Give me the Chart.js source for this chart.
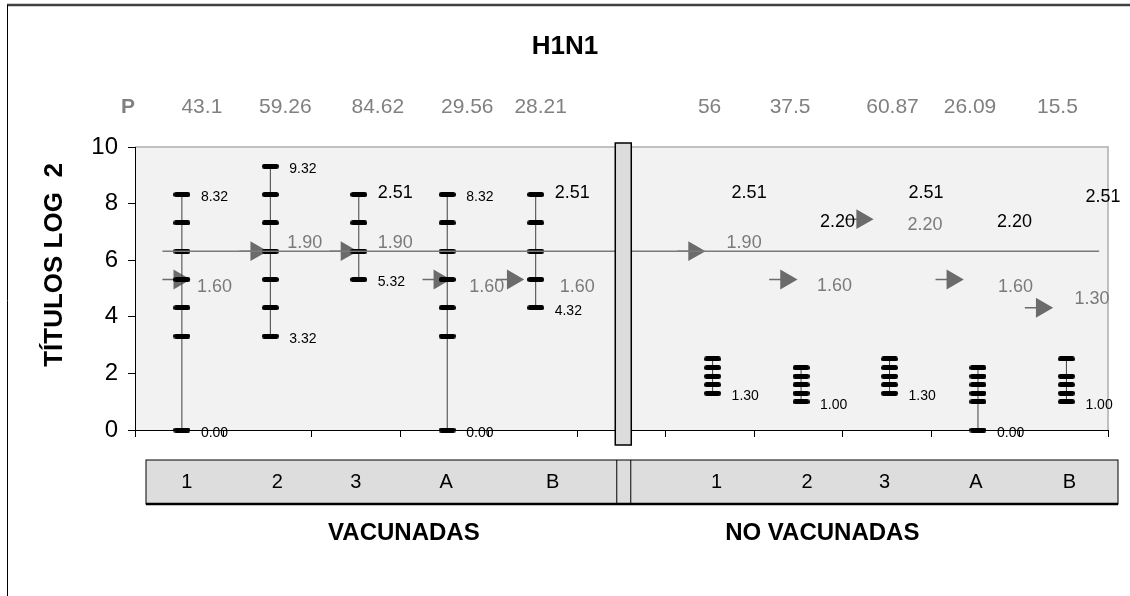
<!DOCTYPE html>
<html>
<head>
<meta charset="utf-8">
<script src="https://cdn.jsdelivr.net/npm/chart.js@4.4.0/dist/chart.umd.min.js"></script>
<style>
  html, body { margin: 0; padding: 0; background: #fff; }
  #wrap { width: 1130px; height: 596px; }
</style>
</head>
<body>
<div id="wrap"><canvas id="chart1" width="1130" height="596"></canvas></div>
<script>
// categorias (la 6a es el separador entre grupos)
const groupLabels = ['1', '2', '3', 'A', 'B', '', '1', '2', '3', 'A', 'B'];
const pValues = ['43.1', '59.26', '84.62', '29.56', '28.21', '', '56', '37.5', '60.87', '26.09', '15.5'];

// titulos individuales (log 2) - vacunadas
const vac1 = [0, 3.32, 4.32, 5.32, 6.32, 7.32, 8.32];
const vac2 = [3.32, 4.32, 5.32, 6.32, 7.32, 8.32, 9.32];
const vac3 = [5.32, 6.32, 7.32, 8.32];
const vacA = [0, 3.32, 4.32, 5.32, 6.32, 7.32, 8.32];
const vacB = [4.32, 5.32, 6.32, 7.32, 8.32];
// no vacunadas
const noVac1 = [1.30, 1.60, 1.90, 2.20, 2.51];
const noVac2 = [1.00, 1.30, 1.60, 1.90, 2.20];
const noVac3 = [1.30, 1.60, 1.90, 2.20, 2.51];
const noVacA = [0, 1.00, 1.30, 1.60, 1.90, 2.20];
const noVacB = [1.00, 1.30, 1.60, 1.90, 2.51];
const titers = [vac1, vac2, vac3, vacA, vacB, null, noVac1, noVac2, noVac3, noVacA, noVacB];

// media geometrica (etiqueta log10 y altura en el grafico)
const meanText = [1.60, 1.90, 1.90, 1.60, 1.60, null, 1.90, 1.60, 2.20, 1.60, 1.30];
const meanY = [5.32, 6.32, 6.32, 5.32, 5.32, null, 6.32, 5.32, 7.45, 5.32, 4.32];
const refLineY = 6.32;

// etiquetas de maximo y minimo
const topText = ['8.32', '9.32', '2.51', '8.32', '2.51', '', '2.51', '2.20', '2.51', '2.20', '2.51'];
const topY = [8.32, 9.32, 8.34, 8.32, 8.34, null, 8.34, 7.31, 8.34, 7.31, 8.2];
const bottomText = ['0.00', '3.32', '5.32', '0.00', '4.32', '', '1.30', '1.00', '1.30', '0.00', '1.00'];

// ajustes de posicion (px) copiados del original
const arrowShift = [0.00, -0.13, -0.11, -0.06, -0.23, 0, -0.18, -0.14, -0.28, -0.26, -0.25];
const meanLabelDx = [15, 17, 19, 22, 24, 0, 14, 16, 18, 20, 8];
const meanLabelDy = [8, -8, -8, 8, 8, 0, -8, 7, 6, 8, -9];
const pShift = [20, 15, 19, 20, 5, 0, -3, -11, 3, -8, -9];
const boxShift = [5, 7, -3, -1, 17, 0, 4, 6, -5, -2, 3];

const FONT = "'Liberation Sans', Arial, sans-serif";
const catX = i => i + 0.53;

function pill(w, h) {
  const c = document.createElement('canvas');
  c.width = w; c.height = h;
  const g = c.getContext('2d');
  const r = h / 2;
  g.fillStyle = '#000';
  g.beginPath();
  g.arc(r, r, r, Math.PI / 2, Math.PI * 1.5);
  g.arc(w - r, r, r, -Math.PI / 2, Math.PI / 2);
  g.closePath();
  g.fill();
  return c;
}
const tickMark = pill(17, 5);

const datasets = [];
// linea de referencia
datasets.push({
  data: [{ x: 0.31, y: refLineY }, { x: 10.9, y: refLineY }],
  borderColor: '#7a7a7a', borderWidth: 1.5, pointRadius: 0, clip: false
});
// rangos de titulos
titers.forEach((vals, i) => {
  if (!vals) return;
  datasets.push({
    data: vals.map(v => ({ x: catX(i), y: v })),
    borderColor: '#404040', borderWidth: 1,
    pointStyle: tickMark, pointRadius: 8, clip: false
  });
});
// flechas de media
const arrowData = [];
meanY.forEach((v, i) => {
  if (v === null) return;
  const cx = i + 0.5 + arrowShift[i];
  arrowData.push({ x: cx - 0.19, y: v }, { x: cx, y: v }, { x: cx, y: null });
});
datasets.push({
  data: arrowData,
  borderColor: '#6b6b6b', borderWidth: 1.5, spanGaps: false,
  pointStyle: 'triangle', pointRotation: 90,
  pointRadius: c => (c.dataIndex % 3 === 1 ? 11.5 : 0),
  pointBackgroundColor: '#6b6b6b', pointBorderWidth: 0, clip: false
});

const decor = {
  id: 'decor',
  beforeDraw(chart) {
    const { ctx, chartArea: a } = chart;
    ctx.save();
    ctx.fillStyle = '#fff';
    ctx.fillRect(0, 0, chart.width, chart.height);
    ctx.strokeStyle = '#404040'; ctx.lineWidth = 2.5;
    ctx.beginPath(); ctx.moveTo(7, 5); ctx.lineTo(chart.width, 5); ctx.stroke();
    ctx.strokeStyle = '#000'; ctx.lineWidth = 1;
    ctx.beginPath(); ctx.moveTo(7.5, 5); ctx.lineTo(7.5, chart.height); ctx.stroke();
    ctx.fillStyle = '#f2f2f2';
    ctx.fillRect(a.left, a.top, a.right - a.left, a.bottom - a.top);
    ctx.strokeStyle = '#c0c0c0'; ctx.lineWidth = 2;
    ctx.beginPath(); ctx.moveTo(a.left, a.top); ctx.lineTo(a.right, a.top); ctx.lineTo(a.right, a.bottom); ctx.stroke();
    ctx.restore();
  },
  afterDatasetsDraw(chart) {
    const { ctx, chartArea: a, scales: { x, y } } = chart;
    ctx.save();
    // separador
    const sx = x.getPixelForValue(5.52);
    ctx.fillStyle = '#dcdcdc'; ctx.strokeStyle = '#000'; ctx.lineWidth = 1.5;
    ctx.fillRect(sx - 8, a.top - 4, 16, a.bottom - a.top + 19);
    ctx.strokeRect(sx - 8, a.top - 4, 16, a.bottom - a.top + 19);

    // caja de categorias
    const bt = a.bottom + 30, bh = 44, bl = a.left + 11, br = a.right + 10;
    ctx.fillStyle = '#dddddd';
    ctx.fillRect(bl, bt, br - bl, bh);
    ctx.lineWidth = 1; ctx.strokeRect(bl, bt, br - bl, bh);
    ctx.lineWidth = 2.5;
    ctx.beginPath(); ctx.moveTo(bl, bt + bh); ctx.lineTo(br, bt + bh); ctx.stroke();
    ctx.lineWidth = 1;
    ctx.beginPath();
    ctx.moveTo(sx - 6.5, bt); ctx.lineTo(sx - 6.5, bt + bh);
    ctx.moveTo(sx + 7.5, bt); ctx.lineTo(sx + 7.5, bt + bh);
    ctx.stroke();

    ctx.textBaseline = 'middle';
    ctx.textAlign = 'center';
    ctx.fillStyle = '#000';
    ctx.font = '20px ' + FONT;
    groupLabels.forEach((t, i) => {
      if (t) ctx.fillText(t, x.getPixelForValue(catX(i)) + boxShift[i], bt + 22);
    });
    ctx.font = 'bold 24px ' + FONT;
    ctx.fillText('VACUNADAS', x.getPixelForValue(3.04), 533);
    ctx.fillText('NO VACUNADAS', x.getPixelForValue(7.77), 533);

    // titulo
    ctx.font = 'bold 26px ' + FONT;
    ctx.fillText('H1N1', chart.width / 2, 47);

    // fila P
    ctx.fillStyle = '#808080';
    ctx.font = 'bold 21px ' + FONT;
    ctx.fillText('P', 128, 107);
    ctx.font = '21px ' + FONT;
    pValues.forEach((t, i) => {
      if (t) ctx.fillText(t, x.getPixelForValue(catX(i)) + pShift[i], 107);
    });

    // titulo eje Y
    ctx.save();
    ctx.translate(55, 265);
    ctx.rotate(-Math.PI / 2);
    ctx.fillStyle = '#000';
    ctx.font = 'bold 26px ' + FONT;
    ctx.fillText('TÍTULOS LOG  2', 0, 0);
    ctx.restore();

    // etiquetas de datos
    ctx.textAlign = 'left';
    titers.forEach((vals, i) => {
      if (!vals) return;
      const bx = x.getPixelForValue(catX(i));
      const big = topText[i] === '2.51' || topText[i] === '2.20';
      ctx.fillStyle = '#000';
      ctx.font = (big ? '18px ' : '14px ') + FONT;
      ctx.fillText(topText[i], bx + 19, y.getPixelForValue(topY[i]) + (big ? -1 : 3));
      ctx.font = '14px ' + FONT;
      ctx.fillText(bottomText[i], bx + 19, y.getPixelForValue(Math.min(...vals)) + 3);
      ctx.fillStyle = '#7a7a7a';
      ctx.font = '18px ' + FONT;
      ctx.fillText(meanText[i].toFixed(2), bx + meanLabelDx[i], y.getPixelForValue(meanY[i]) + meanLabelDy[i]);
    });
    ctx.restore();
  }
};

new Chart(document.getElementById('chart1'), {
  type: 'line',
  data: { datasets },
  plugins: [decor],
  options: {
    responsive: false,
    animation: false,
    devicePixelRatio: 1,
    layout: { padding: { top: 147, right: 22, bottom: 0, left: 0 } },
    plugins: { legend: { display: false }, tooltip: { enabled: false }, title: { display: false } },
    scales: {
      x: {
        type: 'linear', min: 0, max: 11,
        afterFit: s => { s.height = 166; },
        ticks: { stepSize: 1, callback: () => '' },
        grid: { drawOnChartArea: false, tickLength: 7, color: '#000' },
        border: { color: '#000', width: 1 }
      },
      y: {
        min: 0, max: 10,
        afterFit: s => { s.width = 135; },
        ticks: { stepSize: 2, color: '#000', padding: 10, font: { family: FONT, size: 24 } },
        grid: { drawOnChartArea: false, tickLength: 7, color: '#000' },
        border: { color: '#000', width: 1 }
      }
    }
  }
});
</script>
</body>
</html>
